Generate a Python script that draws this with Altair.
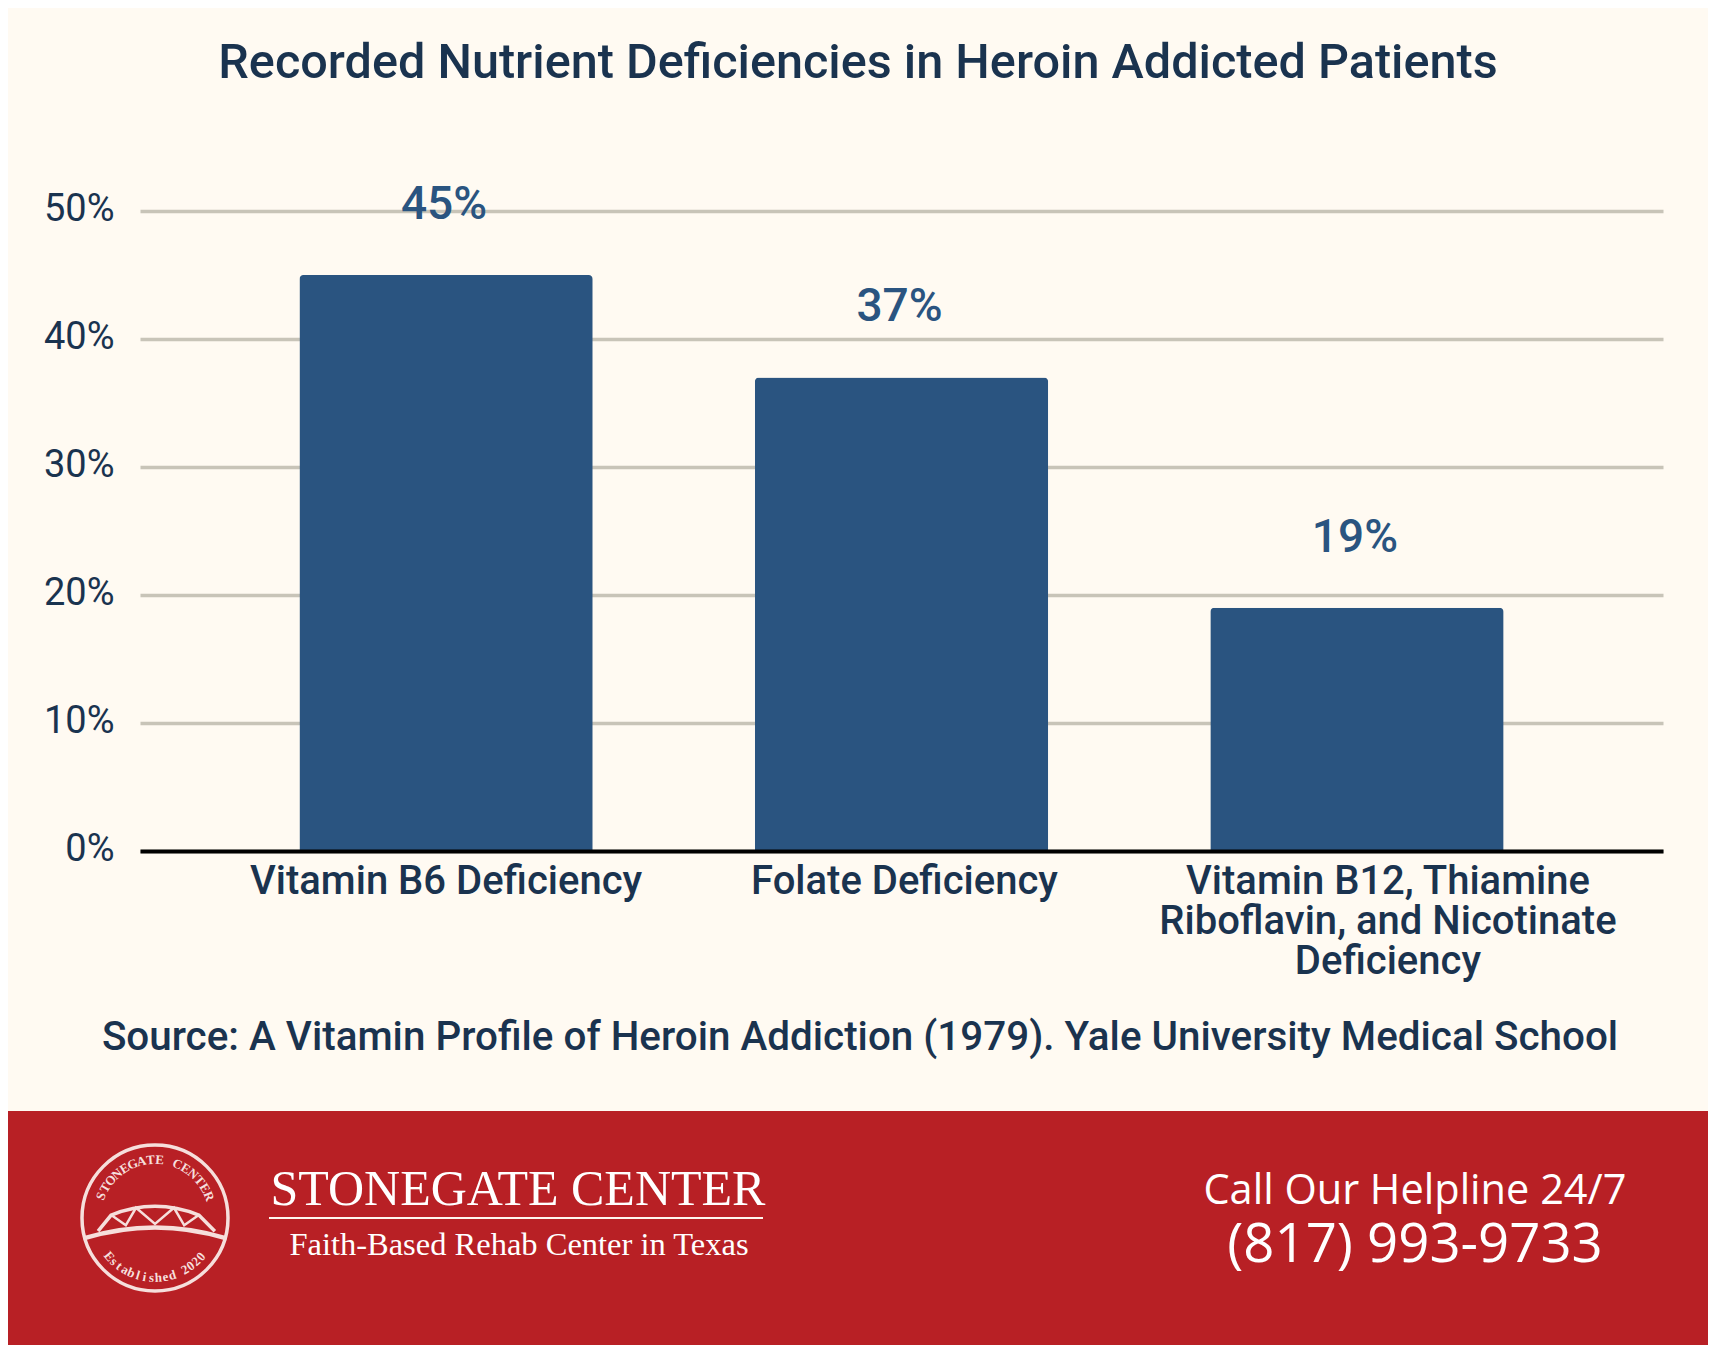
import math
import altair as alt
import pandas as pd

categories = ["Vitamin B6 Deficiency", "Folate Deficiency", "Vitamin B12, Thiamine Riboflavin, and Nicotinate Deficiency"]
axis_labels = ["Vitamin B6 Deficiency", "Folate Deficiency", "Vitamin B12, Thiamine\nRiboflavin, and Nicotinate\nDeficiency"]
label_dx = [0, 3, 31]
values = [45, 37, 19]
y_ticks = [0, 10, 20, 30, 40, 50]

TITLE = "Recorded Nutrient Deficiencies in Heroin Addicted Patients"
SOURCE = "Source: A Vitamin Profile of Heroin Addiction (1979). Yale University Medical School"

BG = "#fffaf2"
BAR = "#2a5480"
INK = "#1a334f"
RED = "#b82025"
GRID = "#c8c4b8"
LOGO = "#f6dfdc"

X0, Y0 = 140, 211   # page position of the plot area's top-left corner
PW, PH = 1523, 640
px = lambda v: v - X0
py = lambda v: v - Y0


def note(text, x, y, size, font="Roboto", weight=400, color=INK, **kw):
    return alt.Chart(pd.DataFrame({"t": [text]})).mark_text(
        font=font, fontSize=size, fontWeight=weight, color=color, baseline="middle", align="center", **kw
    ).encode(x=alt.value(px(x)), y=alt.value(py(y)), text="t:N")


def shape(path, x, y, box, width):
    return alt.Chart(pd.DataFrame({"t": [0]})).mark_point(
        shape=path, size=box * box, filled=False, stroke=LOGO, strokeWidth=width, opacity=1
    ).encode(x=alt.value(px(x)), y=alt.value(py(y)))


def arc_text(text, cx, cy, r, start_deg, end_deg, size, bottom=False):
    parts = []
    n = len(text)
    for i, ch in enumerate(text):
        if ch == " ":
            continue
        a = start_deg + (end_deg - start_deg) * i / (n - 1)
        if bottom:
            theta = (180 - a) % 360
            angle = (-a) % 360
        else:
            theta = a % 360
            angle = a % 360
        parts.append(
            alt.Chart(pd.DataFrame({"t": [ch]})).mark_text(
                font="Liberation Serif", fontSize=size, fontWeight="bold", color=LOGO, baseline="middle", align="center",
                radius=r, theta=math.radians(theta), angle=angle,
            ).encode(x=alt.value(px(cx)), y=alt.value(py(cy)), text="t:N")
        )
    return parts


df = pd.DataFrame({"category": categories, "value": values, "label": [f"{v}%" for v in values]})

x_enc = alt.X(
    "category:N",
    sort=categories,
    title=None,
    scale=alt.Scale(paddingInner=0.356, paddingOuter=0.35),
    axis=alt.Axis(labels=False, ticks=False, domainColor="#000000", domainWidth=4, zindex=1, title=None),
)
y_enc = alt.Y(
    "value:Q",
    title=None,
    scale=alt.Scale(domain=[0, 50], nice=False),
    axis=alt.Axis(
        values=y_ticks, grid=True, gridColor=GRID, gridWidth=3.5, domain=False, ticks=False,
        labelExpr="datum.value + '%'", labelFont="Roboto", labelFontSize=38, labelColor=INK,
        labelPadding=26, labelOffset=-2, title=None,
    ),
)

bars = alt.Chart(df).mark_bar(color=BAR, cornerRadiusTopLeft=4, cornerRadiusTopRight=4).encode(x=x_enc, y=y_enc)
value_labels = alt.Chart(df).mark_text(
    font="Roboto", fontSize=46, fontWeight=500, color=BAR, dy=-70, dx=-2, baseline="middle", align="center"
).encode(x=alt.X("category:N", sort=categories), y=alt.Y("value:Q"), text="label:N")

cat_labels = []
for cat, lab, dx in zip(categories, axis_labels, label_dx):
    cat_labels.append(
        alt.Chart(pd.DataFrame({"category": [cat], "t": [lab]})).mark_text(
            font="Roboto", fontSize=40, fontWeight=500, color=INK, lineBreak="\n", lineHeight=40,
            baseline="top", align="center", dx=dx,
        ).encode(x=alt.X("category:N", sort=categories), y=alt.value(py(862)), text="t:N")
    )

footer = alt.Chart(pd.DataFrame({"t": [0]})).mark_rect(color=RED).encode(
    x=alt.value(px(0)), x2=alt.value(px(1716)), y=alt.value(py(1111)), y2=alt.value(py(1361))
)
rule = alt.Chart(pd.DataFrame({"t": [0]})).mark_rule(color="#fff6ee", strokeWidth=2).encode(
    x=alt.value(px(269)), x2=alt.value(px(763)), y=alt.value(py(1218))
)

CX, CY = 155, 1218
BOX = 292
ring = shape("M -0.5 0 A 0.5 0.5 0 1 1 0.5 0 A 0.5 0.5 0 1 1 -0.5 0 Z", CX, CY, BOX, 3.5)
deck = shape("M -0.49 0.14 Q 0 -0.01 0.49 0.14", CX, CY, BOX, 4.5)
arch = shape("M -0.39 0.09 L -0.3 -0.02 Q 0 -0.14 0.3 -0.02 L 0.41 0.09", CX, CY, BOX, 3.5)
truss = shape("M -0.3 -0.02 L -0.2 0.05 L -0.13 -0.07 L 0 0.04 L 0.13 -0.07 L 0.2 0.05 L 0.3 -0.02", CX, CY, BOX, 2.5)

layers = [bars, value_labels] + cat_labels + [
    note(TITLE, 858, 63, 48.6, weight=500),
    note(SOURCE, 860, 1038, 40.4, weight=500),
    footer, rule,
    note("STONEGATE CENTER", 518, 1190, 50, font="Liberation Serif", color="#ffffff"),
    note("Faith-Based Rehab Center in Texas", 519, 1245, 32.5, font="Liberation Serif", color="#ffffff"),
    note("Call Our Helpline 24/7", 1415, 1192, 41.5, font="Open Sans", color="#ffffff"),
    note("(817) 993-9733", 1415, 1246, 54.5, font="Open Sans", color="#ffffff"),
    ring, deck, arch, truss,
] + arc_text("STONEGATE CENTER", CX, CY, 58, -68, 68, 13) + arc_text("Established 2020", CX, CY, 60, -50, 50, 13, bottom=True)

chart = alt.layer(*layers).properties(
    width=PW,
    height=PH,
    background=BG,
    padding={"left": X0 - 8, "top": Y0 - 8, "right": 1700 - (X0 - 8) - PW, "bottom": 1337 - (Y0 - 8) - PH},
    autosize=alt.AutoSizeParams(type="none"),
).configure_view(stroke=None)

chart.save("out.html", embed_options={"renderer": "svg", "actions": False})
